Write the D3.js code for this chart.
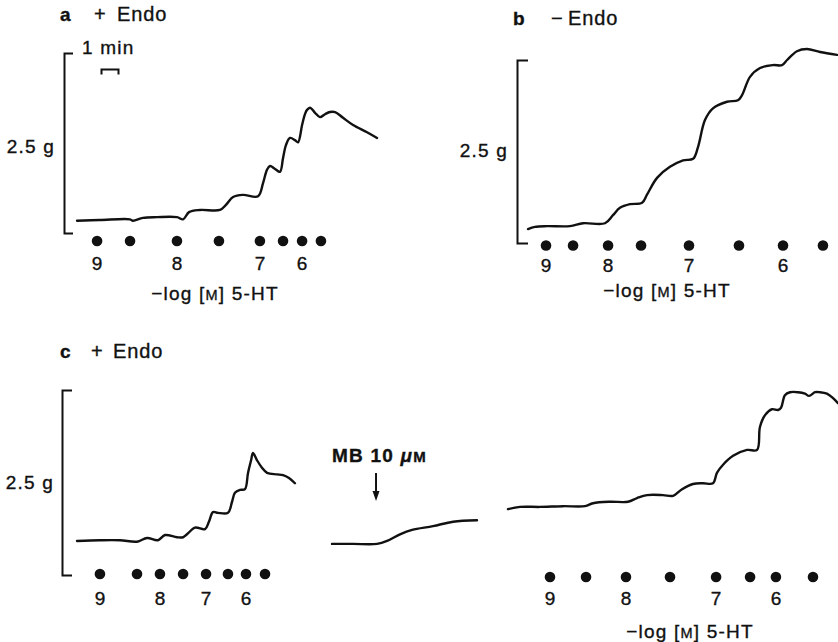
<!DOCTYPE html>
<html>
<head>
<meta charset="utf-8">
<script src="https://cdn.jsdelivr.net/npm/d3@7"></script>
<style>
  html, body { margin: 0; padding: 0; background: #fff; }
  svg { display: block; }
  text { font-family: "Liberation Sans", Arial, Helvetica, sans-serif; fill: #111; stroke: #111; stroke-width: 0.35px; letter-spacing: 1.2px; }
</style>
</head>
<body>
<svg id="chart" width="838" height="642"></svg>
<script>
// ---------------- DATA (time in min, tension in g) ----------------
const doses = [9, 8.5, 8, 7.5, 7, 6.5, 6, 5.5];          // -log[M] 5-HT, cumulative additions
const doseTickLabels = ["9", "", "8", "", "7", "", "6", ""];
const scaleBarValue = 2.5;      // g
const timeBarValue = 1;         // min

// panel a: + Endo
const traceA = [[0,0.17],[1.35,0.18],[3.12,0.19],[3.29,0.17],[3.88,0.21],[4.71,0.22],[5.88,0.22],[6.24,0.19],
  [6.59,0.29],[7.24,0.32],[8.41,0.32],[8.76,0.39],[9.18,0.50],[9.76,0.53],[10.65,0.51],[10.94,0.69],[11.18,0.88],
  [11.35,0.93],[11.65,0.89],[11.94,0.85],[12.12,1.04],[12.29,1.22],[12.53,1.32],[12.82,1.29],[13.0,1.26],
  [13.24,1.50],[13.41,1.65],[13.53,1.71],[13.71,1.74],[14.0,1.67],[14.29,1.61],[14.59,1.65],[14.88,1.68],
  [15.18,1.68],[15.65,1.60],[16.24,1.50],[17.06,1.40],[17.65,1.32]];
const doseTimesA = [1.18, 3.12, 5.88, 8.35, 10.76, 12.12, 13.24, 14.35];

// panel b: - Endo
const traceB = [[0,0.19],[0.41,0.22],[1.12,0.23],[2.47,0.23],[3.24,0.27],[4.53,0.27],[5.0,0.38],[5.41,0.48],
  [6.0,0.53],[6.71,0.55],[7.0,0.66],[7.59,0.89],[8.35,1.04],[9.12,1.13],[9.71,1.15],[10.0,1.31],[10.41,1.68],
  [10.88,1.84],[11.71,1.93],[12.35,1.95],[12.59,2.02],[13.06,2.27],[13.65,2.39],[14.41,2.43],[14.94,2.43],
  [15.24,2.50],[15.82,2.62],[16.41,2.65],[17.18,2.61],[18.18,2.57]];
const doseTimesB = [1.06, 2.65, 4.71, 6.65, 9.47, 12.41, 15.0, 17.35];

// panel c: + Endo, control curve
const traceC1 = [[0,0.46],[1.35,0.47],[2.53,0.47],[3.53,0.45],[4.12,0.50],[4.76,0.47],[5.18,0.54],[5.88,0.51],
  [6.24,0.51],[6.47,0.55],[6.94,0.64],[7.53,0.62],[7.76,0.72],[8.0,0.85],[8.29,0.84],[8.88,0.84],[9.12,0.99],
  [9.29,1.11],[9.59,1.15],[9.88,1.16],[10.06,1.38],[10.24,1.55],[10.35,1.65],[10.59,1.55],[10.88,1.45],
  [11.18,1.38],[11.76,1.36],[12.12,1.35],[12.47,1.31],[12.82,1.24]];
const doseTimesC1 = [1.35, 3.53, 4.88, 6.24, 7.59, 8.88, 9.94, 11.06];

// panel c: methylene blue addition
const traceC2 = [[0,0.42],[1.24,0.42],[2.65,0.42],[3.24,0.46],[4.0,0.55],[4.71,0.61],[5.94,0.66],[7.12,0.72],[8.53,0.74]];
const mbTime = 2.59;

// panel c: curve in presence of MB
const traceC3 = [[0,0.89],[0.71,0.92],[1.88,0.92],[3.24,0.93],[4.53,0.93],[5.0,0.97],[6.0,0.99],[7.06,0.99],
  [7.59,1.04],[8.18,1.08],[9.12,1.08],[9.71,1.07],[10.24,1.16],[10.88,1.23],[11.47,1.24],[12.06,1.24],
  [12.29,1.38],[12.65,1.49],[13.24,1.61],[14.06,1.69],[14.65,1.69],[14.82,2.0],[15.12,2.16],[15.53,2.24],
  [15.88,2.23],[16.06,2.26],[16.29,2.43],[16.59,2.47],[17.06,2.47],[17.47,2.45],[17.71,2.42],[18.06,2.47],
  [18.35,2.47],[18.76,2.45],[19.12,2.39],[19.41,2.32]];
const doseTimesC3 = [2.47, 4.59, 6.94, 9.53, 12.24, 14.24, 15.76, 17.94];

// ---------------- DRAWING ----------------
const svg = d3.select("#chart");
const PX_PER_MIN = 17;

function tScale(x0, tmax) {
  return d3.scaleLinear().domain([0, tmax]).range([x0, x0 + tmax * PX_PER_MIN]);
}
function gScale(bottom, top) {
  return d3.scaleLinear().domain([0, scaleBarValue]).range([bottom, top]);
}

const line = (xs, ys) => d3.line()
  .x(d => xs(d[0])).y(d => ys(d[1]))
  .curve(d3.curveCatmullRom.alpha(0.5));

function drawTrace(data, xs, ys) {
  svg.append("path").datum(data)
    .attr("d", line(xs, ys))
    .attr("fill", "none").attr("stroke", "#111")
    .attr("stroke-width", 2.4).attr("stroke-linejoin", "round").attr("stroke-linecap", "round");
}

function drawScaleBar(x, ys, tick, labelX, labelY) {
  const axis = d3.axisLeft(ys).tickValues([]).tickSizeOuter(-tick);
  const g = svg.append("g").attr("transform", `translate(${x},0)`).call(axis);
  g.select(".domain").attr("stroke", "#111").attr("stroke-width", 2);
  svg.append("text").attr("x", labelX).attr("y", labelY)
    .attr("text-anchor", "end").attr("font-size", 19).text(scaleBarValue + " g");
}

function drawDoses(times, xs, y, labelY) {
  svg.append("g").selectAll("circle").data(times).join("circle")
    .attr("cx", d => xs(d)).attr("cy", y).attr("r", 5.3).attr("fill", "#111");
  svg.append("g").selectAll("text").data(times).join("text")
    .attr("x", d => xs(d)).attr("y", labelY)
    .attr("text-anchor", "middle").attr("font-size", 19).style("letter-spacing", "0px")
    .text((d, i) => doseTickLabels[i]);
}

function axisTitle(cx, y) {
  const t = svg.append("text").attr("x", cx).attr("y", y).attr("text-anchor", "middle").attr("font-size", 19);
  t.append("tspan").text("\u2212log [");
  t.append("tspan").attr("font-size", 14.5).text("M");
  t.append("tspan").text("] 5-HT");
}

function panelTitle(letter, lx, sign, sx, ex, y) {
  svg.append("text").attr("x", lx).attr("y", y).attr("font-size", 19).attr("font-weight", "bold").text(letter);
  svg.append("text").attr("x", sx).attr("y", y).attr("font-size", 20).text(sign);
  svg.append("text").attr("x", ex).attr("y", y).attr("font-size", 20).style("letter-spacing", "0.9px").text("Endo");
}

// ---- panel a ----
const xa = tScale(77, 18), ya = gScale(233, 53);
panelTitle("a", 60, "+", 94, 117, 21);
drawScaleBar(64, ya, 9, 55, 153);
// 1 min time bar
const tb0 = (101 - 77) / PX_PER_MIN;
const xBar = d3.scaleLinear().domain([tb0, tb0 + timeBarValue]).range([xa(tb0), xa(tb0 + timeBarValue)]);
const tbg = svg.append("g").attr("transform", "translate(0,69)")
  .call(d3.axisBottom(xBar).tickValues([]).tickSizeOuter(5.5));
tbg.select(".domain").attr("stroke", "#111").attr("stroke-width", 2);
svg.append("text").attr("x", 82).attr("y", 54).attr("font-size", 19).text(timeBarValue + " min");
drawTrace(traceA, xa, ya);
drawDoses(doseTimesA, xa, 241, 270);
axisTitle(215, 300);

// ---- panel b ----
const xb = tScale(528, 19), yb = gScale(243, 60);
panelTitle("b", 513, "\u2212", 551, 568, 25);
drawScaleBar(517, yb, 11, 508, 157);
drawTrace(traceB, xb, yb);
drawDoses(doseTimesB, xb, 245.5, 272);
axisTitle(667, 297);

// ---- panel c ----
const yc = gScale(575, 390);
panelTitle("c", 60, "+", 91, 113, 358);
drawScaleBar(62, yc, 10, 54, 489);
const xc1 = tScale(77, 13);
drawTrace(traceC1, xc1, yc);
drawDoses(doseTimesC1, xc1, 574, 605);

const xc2 = tScale(332, 9);
drawTrace(traceC2, xc2, yc);
// MB arrow + label
const ax = xc2(mbTime);
svg.append("line").attr("x1", ax).attr("x2", ax).attr("y1", 473).attr("y2", 494)
  .attr("stroke", "#111").attr("stroke-width", 2);
svg.append("path").attr("d", d3.line()([[ax - 3.5, 491], [ax + 3.5, 491], [ax, 501]]) + "Z").attr("fill", "#111");
const mb = svg.append("text").attr("x", 332).attr("y", 462).attr("font-size", 19).attr("font-weight", "bold");
mb.append("tspan").text("MB 10 ");
mb.append("tspan").attr("font-style", "italic").text("\u03BC");
mb.append("tspan").attr("font-size", 15).text("M");

const xc3 = tScale(508, 20);
drawTrace(traceC3, xc3, yc);
drawDoses(doseTimesC3, xc3, 577, 605);
axisTitle(690, 638);
</script>
</body>
</html>
